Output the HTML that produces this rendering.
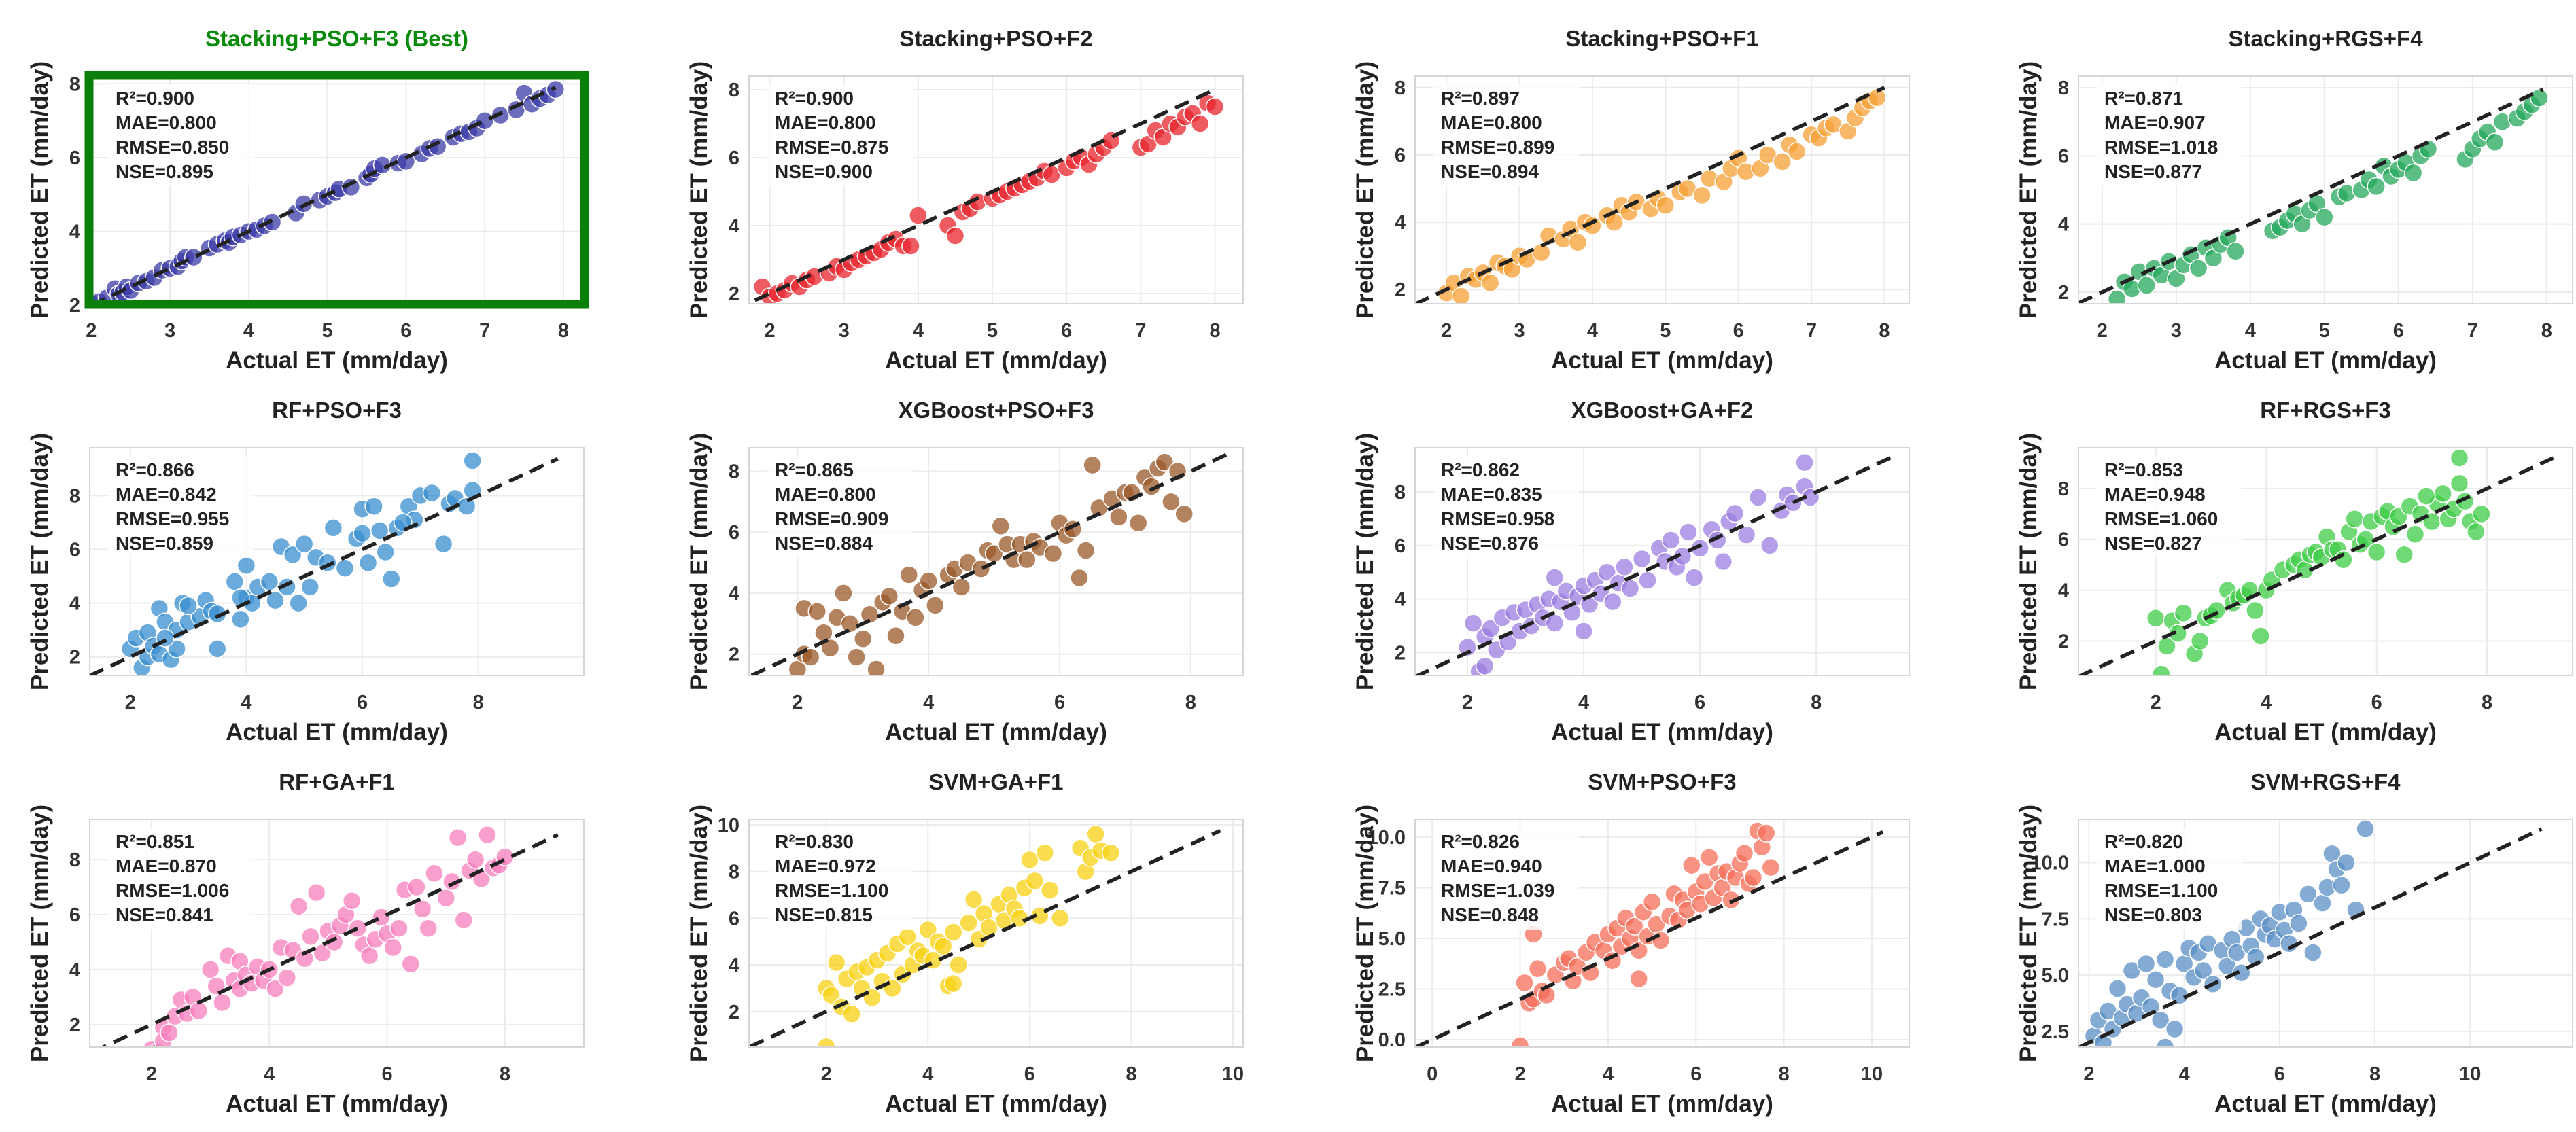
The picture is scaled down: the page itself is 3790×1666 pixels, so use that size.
<!DOCTYPE html>
<html><head><meta charset="utf-8"><style>
html,body{margin:0;padding:0;background:#fff;}
svg{display:block;font-family:"Liberation Sans",Arial,sans-serif;}
</style></head><body>
<svg id="fig" width="3790" height="1666" viewBox="0 0 3790 1666" xmlns="http://www.w3.org/2000/svg"></svg>
<script>
const titles=["Stacking+PSO+F3 (Best)","Stacking+PSO+F2","Stacking+PSO+F1","Stacking+RGS+F4","RF+PSO+F3","XGBoost+PSO+F3","XGBoost+GA+F2","RF+RGS+F3","RF+GA+F1","SVM+GA+F1","SVM+PSO+F3","SVM+RGS+F4"];
const colors=["#3c3ca8","#e8262e","#f6a035","#25a85c","#3a8fd0","#9a5a2a","#9b7fe0","#3fcc48","#f77fbe","#f8d214","#f56f5a","#5b8fc6"];
const statR2=["0.900","0.900","0.897","0.871","0.866","0.865","0.862","0.853","0.851","0.830","0.826","0.820"];
const statMAE=["0.800","0.800","0.800","0.907","0.842","0.800","0.835","0.948","0.870","0.972","0.940","1.000"];
const statRMSE=["0.850","0.875","0.899","1.018","0.955","0.909","0.958","1.060","1.006","1.100","1.039","1.100"];
const statNSE=["0.895","0.900","0.894","0.877","0.859","0.884","0.876","0.827","0.841","0.815","0.848","0.803"];
const xLims=[[1.98,8.26],[1.72,8.38],[1.57,8.34],[1.68,8.35],[1.3,9.82],[1.26,8.8],[1.1,9.6],[0.6,9.55],[0.95,9.34],[0.48,10.2],[-0.39,10.85],[1.78,12.15]];
const yLims=[[2.04,8.21],[1.7,8.4],[1.58,8.34],[1.66,8.34],[1.31,9.78],[1.3,8.77],[1.15,9.65],[0.65,9.6],[1.18,9.46],[0.48,10.23],[-0.37,10.87],[1.8,11.92]];
const lineEnds=[[2.0,7.9],[1.8,8.0],[1.57,8.0],[1.68,7.95],[1.3,9.37],[1.3,8.6],[1.1,9.3],[0.6,9.2],[1.0,8.9],[0.5,9.75],[-0.39,10.25],[1.8,11.5]];
const xTicks=[[2,3,4,5,6,7,8],[2,3,4,5,6,7,8],[2,3,4,5,6,7,8],[2,3,4,5,6,7,8],[2,4,6,8],[2,4,6,8],[2,4,6,8],[2,4,6,8],[2,4,6,8],[2,4,6,8,10],[0,2,4,6,8,10],[2,4,6,8,10]];
const yTicks=[[2,4,6,8],[2,4,6,8],[2,4,6,8],[2,4,6,8],[2,4,6,8],[2,4,6,8],[2,4,6,8],[2,4,6,8],[2,4,6,8],[2,4,6,8,10],[0,2.5,5,7.5,10],[2.5,5,7.5,10]];
const yTickLabels=[["2","4","6","8"],["2","4","6","8"],["2","4","6","8"],["2","4","6","8"],["2","4","6","8"],["2","4","6","8"],["2","4","6","8"],["2","4","6","8"],["2","4","6","8"],["2","4","6","8","10"],["0.0","2.5","5.0","7.5","10.0"],["2.5","5.0","7.5","10.0"]];
const actual0=[2.0,2.1,2.2,2.3,2.35,2.4,2.45,2.5,2.6,2.7,2.8,2.9,3.0,3.1,3.15,3.2,3.3,3.5,3.6,3.7,3.75,3.8,3.9,4.0,4.1,4.2,4.3,4.6,4.7,4.9,5.0,5.1,5.15,5.3,5.5,5.55,5.6,5.7,5.9,6.0,6.2,6.3,6.4,6.6,6.7,6.8,6.9,7.0,7.2,7.4,7.5,7.6,7.7,7.8,7.9];
const pred0=[2.05,2.1,2.2,2.45,2.3,2.35,2.5,2.4,2.6,2.65,2.75,2.95,3.0,3.05,3.2,3.3,3.3,3.55,3.65,3.75,3.7,3.85,3.9,4.0,4.05,4.15,4.25,4.5,4.75,4.85,4.95,5.05,5.15,5.2,5.45,5.55,5.7,5.8,5.85,5.9,6.1,6.25,6.3,6.55,6.65,6.7,6.8,7.0,7.15,7.3,7.75,7.45,7.6,7.7,7.85];
const actual1=[1.9,2.0,2.1,2.2,2.3,2.4,2.5,2.6,2.8,2.9,3.0,3.1,3.2,3.3,3.4,3.5,3.6,3.7,3.8,3.9,4.0,4.4,4.5,4.6,4.7,4.8,5.0,5.1,5.2,5.3,5.4,5.5,5.6,5.7,5.8,6.0,6.1,6.2,6.3,6.4,6.5,6.6,7.0,7.1,7.2,7.3,7.4,7.5,7.6,7.7,7.8,7.9,8.0];
const pred1=[2.2,1.9,2.0,2.1,2.3,2.2,2.4,2.5,2.6,2.8,2.7,2.9,3.0,3.1,3.2,3.3,3.5,3.6,3.4,3.4,4.3,4.0,3.7,4.4,4.5,4.7,4.8,4.9,5.0,5.1,5.2,5.3,5.4,5.6,5.5,5.7,5.9,6.0,5.8,6.1,6.3,6.5,6.3,6.4,6.8,6.6,7.0,6.9,7.2,7.3,7.0,7.6,7.5];
const actual2=[2.0,2.1,2.2,2.3,2.4,2.5,2.6,2.7,2.8,2.9,3.0,3.1,3.3,3.4,3.6,3.7,3.8,3.9,4.0,4.2,4.3,4.4,4.5,4.6,4.8,4.9,5.0,5.2,5.3,5.5,5.6,5.8,5.9,6.0,6.1,6.3,6.4,6.6,6.7,6.8,7.0,7.1,7.2,7.3,7.5,7.6,7.7,7.8,7.9];
const pred2=[1.9,2.2,1.8,2.4,2.3,2.5,2.2,2.8,2.7,2.6,3.0,2.9,3.1,3.6,3.5,3.8,3.4,4.0,3.9,4.2,4.0,4.5,4.3,4.6,4.4,4.7,4.5,4.9,5.0,4.8,5.3,5.2,5.6,5.9,5.5,5.6,6.0,5.8,6.3,6.1,6.6,6.5,6.8,6.9,6.7,7.1,7.4,7.6,7.7];
const actual3=[2.2,2.3,2.4,2.5,2.6,2.7,2.8,2.9,3.0,3.1,3.2,3.3,3.4,3.5,3.6,3.7,3.8,4.3,4.4,4.5,4.6,4.7,4.8,4.9,5.0,5.2,5.3,5.5,5.6,5.7,5.8,5.9,6.0,6.1,6.2,6.3,6.4,6.9,7.0,7.1,7.2,7.3,7.4,7.6,7.7,7.8,7.9];
const pred3=[1.8,2.3,2.1,2.6,2.2,2.7,2.5,2.9,2.4,2.8,3.1,2.7,3.3,3.0,3.4,3.6,3.2,3.8,3.9,4.1,4.3,4.0,4.4,4.6,4.2,4.8,4.9,5.0,5.3,5.1,5.7,5.4,5.6,5.8,5.5,6.0,6.2,5.9,6.2,6.5,6.7,6.4,7.0,7.1,7.3,7.5,7.7];
const actual4=[2.0,2.1,2.2,2.3,2.3,2.4,2.5,2.5,2.6,2.7,2.8,2.8,2.9,3.0,3.2,3.3,3.4,3.5,3.5,3.8,3.9,4.0,4.0,4.1,4.2,4.4,4.5,4.6,4.7,4.8,4.9,5.0,5.1,5.2,5.4,5.5,5.7,5.9,6.0,6.1,6.2,6.3,6.4,6.5,6.6,6.8,7.0,7.2,7.4,7.5,7.6,7.8,7.9,7.9,6.9,6.0,3.0,3.9,2.6,6.7];
const pred4=[2.3,2.7,1.6,2.9,2.0,2.4,3.8,2.1,3.3,1.9,2.3,3.0,4.0,3.3,3.5,4.1,3.7,2.3,3.6,4.8,3.4,5.4,4.2,4.0,4.6,4.8,4.1,6.1,4.6,5.8,4.0,6.2,4.6,5.7,5.5,6.8,5.3,6.4,7.5,5.5,7.6,6.7,5.9,4.9,6.8,7.6,8.0,8.1,6.2,7.7,7.9,7.6,8.2,9.3,7.1,6.6,3.9,4.2,2.7,7.0];
const actual5=[2.0,2.1,2.1,2.2,2.3,2.4,2.5,2.6,2.7,2.8,2.9,3.0,3.1,3.2,3.3,3.4,3.5,3.6,3.7,3.8,3.9,4.0,4.1,4.3,4.4,4.5,4.6,4.8,4.9,5.0,5.1,5.2,5.3,5.4,5.5,5.6,5.7,5.9,6.0,6.1,6.2,6.3,6.4,6.5,6.6,6.8,6.9,7.0,7.1,7.2,7.3,7.4,7.5,7.6,7.7,7.8,7.9];
const pred5=[1.5,2.0,3.5,1.9,3.4,2.7,2.2,3.2,4.0,3.0,1.9,2.5,3.3,1.5,3.7,3.9,2.6,3.4,4.6,3.2,4.1,4.4,3.6,4.6,4.8,4.2,5.0,4.8,5.4,5.3,6.2,5.6,5.1,5.6,5.1,5.7,5.5,5.3,6.3,5.9,6.1,4.5,5.4,8.2,6.8,7.1,6.5,7.3,7.3,6.3,7.8,7.5,8.1,8.3,7.0,8.0,6.6];
const actual6=[2.0,2.1,2.2,2.3,2.3,2.4,2.5,2.6,2.7,2.8,2.9,3.0,3.1,3.2,3.3,3.4,3.5,3.6,3.7,3.8,3.9,4.0,4.1,4.2,4.3,4.4,4.5,4.6,4.7,4.8,5.0,5.1,5.3,5.4,5.5,5.6,5.7,5.8,5.9,6.0,6.2,6.3,6.4,6.5,6.6,6.8,7.0,7.2,7.4,7.5,7.6,7.8,7.9,7.8,4.0,3.5];
const pred6=[2.2,3.1,1.3,2.6,1.5,2.9,2.1,3.3,2.4,3.5,2.8,3.6,3.0,3.8,3.3,4.0,3.1,3.9,4.3,3.5,4.1,4.5,3.8,4.7,4.2,5.0,3.9,4.6,5.2,4.4,5.5,4.7,5.9,5.4,6.2,5.2,5.6,6.5,4.8,5.9,6.6,6.2,5.4,6.9,7.2,6.4,7.8,6.0,7.3,7.9,7.6,8.2,7.8,9.1,2.8,4.8];
const actual7=[2.0,2.1,2.2,2.3,2.4,2.5,2.7,2.8,2.9,3.0,3.1,3.3,3.4,3.5,3.6,3.7,3.8,3.9,4.0,4.1,4.3,4.5,4.6,4.7,4.8,4.9,5.0,5.1,5.2,5.3,5.4,5.5,5.6,5.7,5.8,5.9,6.0,6.1,6.2,6.3,6.4,6.5,6.6,6.7,6.8,7.0,7.1,7.2,7.3,7.4,7.5,7.6,7.7,7.8,7.9,7.5,6.9];
const pred7=[2.9,0.7,1.8,2.8,2.3,3.1,1.5,2.0,2.9,3.0,3.2,4.0,3.5,3.7,3.8,4.0,3.2,2.2,4.0,4.4,4.8,5.0,5.2,4.8,5.4,5.5,5.3,6.1,5.6,5.6,5.2,6.3,6.8,5.8,6.0,6.7,5.5,6.9,7.1,6.5,6.9,5.4,7.3,6.2,7.0,6.7,7.4,7.8,6.8,7.2,8.2,7.5,6.7,6.3,7.0,9.2,7.7];
const actual8=[2.0,2.1,2.2,2.2,2.3,2.4,2.5,2.6,2.7,2.8,3.0,3.1,3.2,3.3,3.4,3.5,3.5,3.6,3.7,3.8,3.9,4.0,4.1,4.2,4.3,4.4,4.5,4.6,4.7,4.8,4.9,5.0,5.1,5.2,5.3,5.4,5.5,5.6,5.7,5.8,5.9,6.0,6.1,6.2,6.3,6.4,6.5,6.6,6.7,6.8,7.0,7.1,7.2,7.3,7.4,7.5,7.6,7.7,7.8,7.9,8.0];
const pred8=[1.1,1.0,1.9,1.4,1.7,2.3,2.9,2.4,3.0,2.5,4.0,3.4,2.8,4.5,3.6,4.3,3.3,3.8,3.5,4.1,3.6,4.0,3.3,4.8,3.7,4.7,6.3,4.4,5.2,6.8,4.6,5.4,5.0,5.6,6.0,6.5,5.5,4.9,4.5,5.1,5.9,5.3,4.8,5.5,6.9,4.2,7.0,6.2,5.5,7.5,6.6,7.2,8.8,5.8,7.6,8.0,7.3,8.9,7.7,7.8,8.1];
const actual9=[2.0,2.0,2.1,2.2,2.3,2.4,2.5,2.6,2.7,2.8,2.9,3.0,3.1,3.2,3.3,3.4,3.5,3.6,3.7,3.8,3.9,4.0,4.1,4.2,4.3,4.4,4.5,4.6,4.8,4.9,5.0,5.1,5.2,5.4,5.5,5.6,5.7,5.8,5.9,6.0,6.1,6.2,6.3,6.4,6.6,7.0,7.1,7.2,7.3,7.4,7.6,4.5];
const pred9=[0.5,3.0,2.7,4.1,2.2,3.4,1.9,3.7,3.0,3.9,2.6,4.2,3.3,4.5,3.0,4.9,3.6,5.2,4.0,4.6,4.4,5.5,4.2,5.0,4.8,3.1,5.4,4.0,5.8,6.8,5.1,6.2,5.6,6.6,5.9,7.0,6.4,6.0,7.3,8.5,7.6,6.1,8.8,7.2,6.0,9.0,8.0,8.6,9.6,8.9,8.8,3.2];
const actual10=[2.0,2.1,2.2,2.3,2.4,2.5,2.6,2.8,3.0,3.1,3.2,3.3,3.5,3.6,3.7,3.9,4.0,4.1,4.2,4.3,4.4,4.5,4.6,4.7,4.8,4.9,5.0,5.1,5.2,5.4,5.5,5.6,5.7,5.8,5.9,6.0,6.1,6.2,6.3,6.4,6.5,6.6,6.7,6.8,6.9,7.0,7.1,7.2,7.3,7.4,7.5,7.6,7.7,2.3,4.7];
const pred10=[-0.3,2.8,1.8,2.0,3.5,2.4,2.2,3.2,3.8,4.0,2.9,3.6,4.3,3.3,4.8,4.4,5.2,3.9,5.5,4.6,6.0,5.0,5.6,4.4,6.3,5.1,6.8,5.7,4.9,6.1,7.2,5.9,6.9,6.4,8.6,7.3,6.7,7.8,9.0,7.0,8.2,7.5,8.3,6.9,8.0,8.7,9.2,7.7,8.0,10.3,9.5,10.2,8.5,5.2,3.0];
const actual11=[2.1,2.2,2.3,2.4,2.5,2.6,2.7,2.8,2.9,3.0,3.1,3.2,3.3,3.4,3.5,3.6,3.7,3.8,3.9,4.0,4.1,4.2,4.3,4.4,4.5,4.6,4.8,4.9,5.0,5.1,5.2,5.3,5.4,5.5,5.6,5.7,5.8,5.9,6.0,6.1,6.2,6.3,6.4,6.6,6.7,6.9,7.0,7.1,7.2,7.3,7.4,7.6,7.8,3.6];
const pred11=[2.3,3.0,2.0,3.4,2.6,4.4,3.1,3.7,5.2,3.3,4.0,5.5,3.6,4.8,3.0,5.7,4.3,2.6,4.1,5.5,6.2,4.9,6.0,5.2,6.4,4.6,6.1,5.4,6.6,6.0,5.1,7.1,6.3,5.8,7.5,6.8,7.2,6.6,7.8,7.0,6.4,7.9,7.3,8.6,6.0,8.2,8.9,10.4,9.7,9.0,10.0,7.9,11.5,1.8];
const actualSets=[actual0,actual1,actual2,actual3,actual4,actual5,actual6,actual7,actual8,actual9,actual10,actual11];
const predSets=[pred0,pred1,pred2,pred3,pred4,pred5,pred6,pred7,pred8,pred9,pred10,pred11];

const NS="http://www.w3.org/2000/svg";
const svg=document.getElementById('fig');
const colLeft=[132,1102,2082,3058];
const rowTop=[112,659,1206];
const PW=727, PH=335;
function mk(tag,attrs,parent){const e=document.createElementNS(NS,tag);for(const k in attrs)e.setAttribute(k,attrs[k]);(parent||svg).appendChild(e);return e;}

for(let i=0;i<12;i++){
  const r=Math.floor(i/4), c=i%4;
  const L=colLeft[c], T=rowTop[r];
  const g=mk('g',{});
  
  
  const xs=v=>L+(v-xLims[i][0])/(xLims[i][1]-xLims[i][0])*PW;
  const ys=v=>T+PH-(v-yLims[i][0])/(yLims[i][1]-yLims[i][0])*PH;
  const cp='clip'+i;
  const defs=mk('defs',{},g);
  const clip=mk('clipPath',{id:cp},defs);
  mk('rect',{x:L,y:T,width:PW,height:PH},clip);
  const bg=mk('rect',{x:L,y:T,width:PW,height:PH,fill:'#fff'},g);
  
  
  xTicks[i].forEach(v=>{
    const gl=mk('line',{x1:xs(v),x2:xs(v),y1:T,y2:T+PH,stroke:'#ebebeb','stroke-width':2},g);
    
    
    const t=mk('text',{x:xs(v),y:T+PH+49,'text-anchor':'middle','font-size':29,'font-weight':'bold',fill:'#333'},g);
    t.textContent=String(v);
    
    
  });
  yTicks[i].forEach((v,k)=>{
    const gl=mk('line',{x1:L,x2:L+PW,y1:ys(v),y2:ys(v),stroke:'#ebebeb','stroke-width':2},g);
    
    
    const t=mk('text',{x:L-14,y:ys(v)+10,'text-anchor':'end','font-size':29,'font-weight':'bold',fill:'#333'},g);
    t.textContent=yTickLabels[i][k];
    
    
  });
  const pts=mk('g',{'clip-path':'url(#'+cp+')'},g);
  
  
  const ax=actualSets[i], pr=predSets[i];
  for(let k=0;k<ax.length;k++){
    const d=mk('circle',{cx:xs(ax[k]),cy:ys(pr[k]),r:13,fill:colors[i],'fill-opacity':0.75,stroke:'#fff','stroke-width':1.5},pts);
    
    
  }
  const ln=mk('line',{x1:xs(lineEnds[i][0]),y1:ys(lineEnds[i][0]),x2:xs(lineEnds[i][1]),y2:ys(lineEnds[i][1]),stroke:'#222','stroke-width':5.5,'stroke-dasharray':'22 12','clip-path':'url(#'+cp+')'},g);
  
  
  const bd=mk('rect',{x:L,y:T,width:PW,height:PH,fill:'none',stroke:'#d6d6d6','stroke-width':2},g);
  
  
  if(i===0){
    const gf=mk('rect',{x:L-1,y:T-1,width:PW+2,height:PH+2,fill:'none',stroke:'#0a800a','stroke-width':13},g);
    
    
  }
  const sb=mk('rect',{x:L+26,y:T+12,width:215,height:150,fill:'#fff','fill-opacity':0.8},g);
  
  
  const lines=['R²='+statR2[i],'MAE='+statMAE[i],'RMSE='+statRMSE[i],'NSE='+statNSE[i]];
  lines.forEach((s,k)=>{
    const t=mk('text',{x:L+38,y:T+42+k*36,'font-size':28,'font-weight':'bold',fill:'#222'},g);
    t.textContent=s;
    
    
  });
  const tt=mk('text',{x:L+PW/2,y:T-44,'text-anchor':'middle','font-size':33,'font-weight':'bold',fill:i===0?'#0a8a0a':'#222'},g);
  tt.textContent=titles[i];
  
  
  const xl=mk('text',{x:L+PW/2,y:T+PH+95,'text-anchor':'middle','font-size':35,'font-weight':'bold',fill:'#222'},g);
  xl.textContent='Actual ET (mm/day)';
  
  
  const yl=mk('text',{x:0,y:0,'text-anchor':'middle','font-size':35,'font-weight':'bold',fill:'#222',transform:'translate('+(L-62)+','+(T+PH/2)+') rotate(-90)'},g);
  yl.textContent='Predicted ET (mm/day)';
  
  
}
</script>
</body></html>
